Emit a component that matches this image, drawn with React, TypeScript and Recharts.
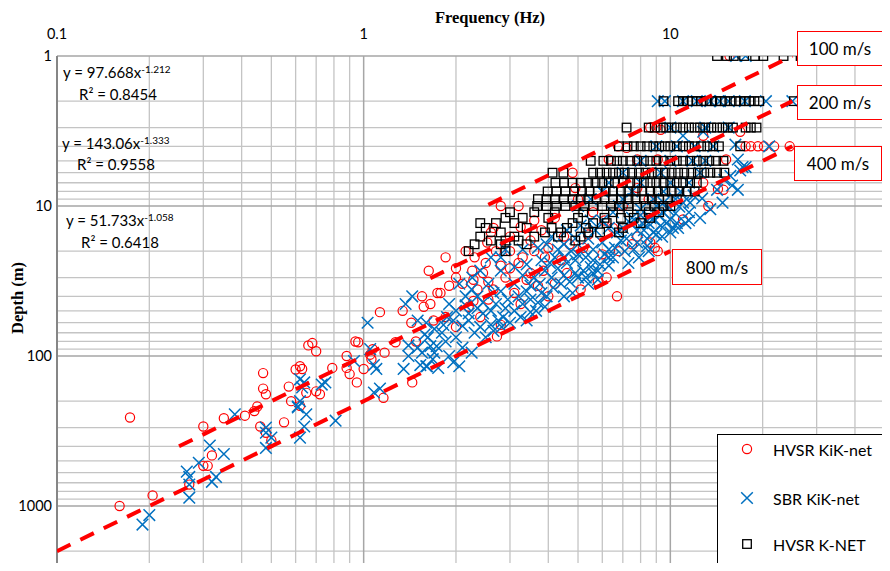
import React from 'react';
import { ScatterChart, Scatter, XAxis, YAxis, ReferenceLine } from 'recharts';

// HVSR KiK-net (red circles): [frequency Hz, depth m]
const hvsrKik: [number, number][] = [
  [0.173, 257], [0.16, 1000], [0.205, 850], [0.3, 295], [0.35, 260], [0.32, 460], [0.3, 540], [0.31, 540],
  [0.27, 720], [0.41, 250], [0.44, 233], [0.45, 217], [0.47, 165], [0.48, 180], [0.57, 160], [0.58, 200],
  [0.46, 295], [0.48, 325], [0.5, 365], [0.55, 277], [0.47, 130], [0.62, 215], [0.6, 123], [0.62, 117],
  [0.63, 122], [0.66, 85], [0.68, 82], [0.7, 93], [0.65, 176], [0.7, 172], [0.72, 180], [0.79, 120],
  [0.88, 100], [0.88, 120], [0.9, 132], [0.95, 150], [0.94, 80], [0.96, 81], [1.0, 122], [1.05, 98],
  [1.06, 105], [1.13, 51], [1.07, 90], [1.16, 190], [1.17, 95], [1.27, 81], [1.34, 50], [1.43, 60],
  [1.44, 150], [1.48, 80], [1.65, 45], [1.74, 38], [1.69, 58], [1.63, 27], [1.85, 22],
  [2.53, 17.5], [2.5, 24], [2.7, 20], [2.8, 25], [2.55, 32], [2.26, 27], [2.28, 31], [2.0, 26],
  [1.78, 38], [1.57, 47], [1.85, 55], [2.4, 55], [2.8, 62], [2.72, 74], [2.28, 43], [2.55, 42],
  [3.25, 45], [3.7, 34], [3.85, 27], [4.4, 23], [5.1, 36], [5.8, 32], [6.2, 30], [6.7, 40], [6.8, 20],
  [7.8, 16], [9.1, 20], [3.0, 26], [3.5, 28], [3.2, 24], [2.1, 33], [2.35, 36], [2.9, 30], [3.1, 38],
  [3.4, 31], [4.0, 40], [4.6, 28], [4.2, 33],
  [2.0, 30], [2.15, 20], [2.3, 22], [2.45, 28], [3.0, 20], [3.3, 22], [3.6, 20], [2.6, 15], [3.0, 16],
  [1.9, 34], [2.2, 47], [2.0, 64], [1.55, 40], [2.65, 36], [3.9, 22], [4.7, 18],
  [2.8, 10], [3.2, 10], [2.65, 14], [3.25, 13.8], [3.6, 12.5], [3.8, 14.5], [4.8, 6], [6.75, 4],
  [6.3, 4.9], [7.2, 4.1], [7.8, 4.9], [9.3, 3.1], [9.1, 4.9], [4.9, 7.6], [7.8, 7.6], [6.1, 12.5],
  [5.4, 15.5], [4.2, 12], [4.5, 16], [5.0, 9], [5.6, 11], [6.5, 14], [7.0, 10], [7.5, 18], [8.2, 12],
  [5.2, 19], [4.0, 19], [3.5, 17], [6.0, 21], [8.5, 9],
  [17.6, 4], [18.3, 4], [19.3, 4], [21.8, 4], [24.5, 4], [15.2, 4.9], [12.8, 7], [14.3, 7.7], [14.9, 7.8],
  [13.3, 10], [11.0, 12.3], [8.6, 17.5], [8.9, 19], [16.9, 3.2], [8.6, 3.0], [9.0, 3.0], [12.8, 3.4],
  [20.2, 4], [15.6, 1],
];

// SBR KiK-net (blue crosses): [frequency Hz, depth m]
const sbrKik: [number, number][] = [
  [0.19, 1330], [0.2, 1150], [0.27, 880], [0.265, 590], [0.27, 640], [0.29, 515], [0.27, 720], [0.315, 395],
  [0.32, 690], [0.33, 640], [0.35, 450], [0.38, 245], [0.48, 300], [0.48, 325], [0.5, 350], [0.48, 410],
  [0.61, 220], [0.62, 200], [0.81, 270], [0.62, 350], [0.64, 295],
  [0.62, 143], [0.63, 162], [0.61, 217], [0.65, 245], [0.64, 150], [0.73, 155], [0.75, 150], [0.93, 108],
  [1.03, 60], [1.05, 90], [1.08, 115], [1.1, 122], [1.08, 175], [1.13, 165], [1.35, 122], [1.44, 40],
  [1.37, 45], [1.5, 58], [1.6, 60], [1.4, 85], [1.5, 88], [1.6, 117], [1.68, 105], [1.53, 115], [1.62, 75],
  [1.4, 100],
  [1.61, 117], [1.96, 110], [2.05, 117], [1.65, 86], [1.73, 86], [1.8, 70], [1.96, 58], [1.87, 55],
  [2.1, 63], [2.2, 58], [2.4, 64], [2.45, 52], [2.6, 50], [2.75, 58], [2.82, 64], [3.25, 55], [3.5, 51],
  [3.65, 50], [3.9, 47], [4.5, 40], [4.8, 38], [5.4, 33], [5.8, 31], [2.05, 33], [2.15, 40], [2.25, 36],
  [2.35, 40], [2.15, 46], [2.65, 38], [2.8, 37], [3.1, 33], [3.4, 37], [3.75, 33], [4.15, 35], [4.5, 29],
  [4.9, 28], [5.2, 27], [5.5, 25.5], [5.9, 24.5], [6.3, 22], [6.3, 19.5], [2.8, 27], [3.1, 25.5],
  [3.4, 24.5], [3.8, 23], [4.2, 22], [4.5, 22], [4.9, 23], [5.2, 19.5], [5.6, 19.5], [6.0, 17.5],
  [6.1, 21], [2.9, 19.5], [3.3, 19.5], [3.7, 19], [3.95, 18], [4.5, 18], [4.9, 16.5], [5.4, 16.5],
  [7.2, 16.5], [7.8, 17.5], [8.4, 16.5], [8.8, 15], [9.3, 13.5], [9.7, 13], [10.2, 14], [7.6, 19.5],
  [8.4, 18.5], [7.0, 14], [6.3, 14], [5.7, 14.5], [6.5, 22], [7.9, 22], [2.4, 27], [2.26, 30], [2.6, 22],
  [2.8, 22],
  [1.55, 95], [1.7, 95], [1.85, 80], [1.9, 100], [1.75, 120], [1.58, 72], [1.7, 66], [1.82, 62], [2.0, 75],
  [2.1, 88], [2.25, 95], [2.0, 50], [1.9, 45], [2.3, 70], [2.5, 75], [2.6, 62], [2.45, 44], [2.55, 33],
  [2.7, 45], [2.9, 48], [2.95, 42], [2.35, 48], [2.2, 52], [2.65, 68], [2.85, 55], [3.0, 60], [3.1, 50],
  [3.2, 40], [3.3, 45], [3.5, 42], [3.6, 30], [3.8, 38], [3.9, 27], [3.3, 29], [3.5, 34], [3.7, 44],
  [3.4, 58], [3.95, 40], [4.1, 30], [4.3, 26], [4.05, 24], [4.4, 33], [4.7, 32], [4.6, 24], [4.75, 20],
  [5.0, 30], [5.0, 21], [5.3, 22], [5.6, 28], [5.3, 30], [5.8, 27], [5.6, 23], [4.3, 19.5], [4.1, 16],
  [4.6, 14.5], [5.1, 13.5], [5.5, 12.5], [6.0, 12.5], [6.3, 25], [6.6, 19], [6.9, 17], [7.1, 20],
  [6.7, 15], [7.4, 13], [7.8, 14.5], [8.1, 13], [8.6, 12], [9.0, 10], [9.5, 9.5], [9.8, 10.5], [10.4, 9],
  [11, 9.5], [8.5, 20], [7.3, 24], [9.4, 16], [10, 15], [10.6, 14], [11.2, 13],
  [9.1, 2], [9.6, 2], [12.2, 2], [13.5, 2], [15.5, 2], [25, 2], [17.5, 2], [20.5, 2], [12.8, 3.2],
  [16.3, 3.9], [16.6, 4.9], [17.2, 5.5], [17.6, 5.5], [15.7, 6.3], [16.9, 5.8], [16.6, 7.8], [15.9, 7.3],
  [15.0, 6.7], [14.2, 7.8], [12.7, 8.9], [11.9, 8.5], [11.6, 9.5], [10.7, 10.1], [10.4, 11.2], [10.0, 12.3],
  [11.5, 11], [12.5, 12], [13.5, 10.5], [14.8, 9.5], [11, 3.4], [21, 4], [16.4, 1], [17.6, 1],
  [9.0, 4.0], [10.5, 4.0], [12.0, 4.0], [13.8, 4.0], [8.0, 5.0], [10.0, 5.0], [11.8, 5.0], [13.0, 5.0],
  [7.0, 6.0], [9.3, 6.0], [12.5, 6.0], [6.3, 7.0], [8.0, 7.0], [10.0, 7.0], [11.5, 7.0], [6.0, 8.0],
  [7.5, 8.0], [9.5, 8.0], [10.8, 8.0], [5.5, 9.0], [7.0, 9.0], [8.8, 9.0], [5.0, 10.0], [6.8, 10.0],
  [8.0, 10.5], [9.2, 11.5], [7.5, 12], [6.5, 11], [8.5, 13], [11.0, 2.0], [14.5, 2.0], [10.0, 3.0],
  [13.0, 3.0], [15.5, 3.0], [8.0, 11.5], [8.9, 12.5], [9.5, 11], [10.5, 13], [11.5, 12.5], [8.2, 14.5],
  [9.0, 15.5],
];

// HVSR K-NET (black squares): frequencies per borehole depth
const knetRows: { d: number; f: number[] }[] = [
  { d: 1, f: [14.2, 15.3, 16.1, 17.4, 18.9, 20.1, 23.4, 26.6] },
  { d: 2, f: [9.5, 10.6, 11.0, 11.4, 11.8, 12.2, 12.6, 13.1, 13.6, 14.1, 14.6, 15.1, 15.7, 16.3, 16.9, 17.5, 18.1, 18.8, 19.5, 25.3] },
  { d: 3, f: [7.2, 8.5, 8.9, 9.3, 9.7, 10.1, 10.5, 11.0, 11.5, 12.0, 12.5, 13.0, 13.6, 14.2, 14.8, 15.4, 16.0, 17.6, 18.3, 19.1] },
  { d: 4, f: [6.8, 7.25, 7.6, 8.0, 8.4, 8.8, 9.2, 9.6, 10.0, 10.5, 11.0, 11.5, 12.0, 12.6, 13.2, 13.8, 14.4, 16.9] },
  { d: 5, f: [5.5, 6.05, 6.4, 6.7, 7.0, 7.4, 7.8, 8.2, 8.6, 9.0, 9.5, 10.0, 10.5, 11.0, 11.6, 12.2, 12.8, 13.4, 14.1, 14.9] },
  { d: 6, f: [4.13, 4.48, 5.6, 5.9, 6.2, 6.5, 6.8, 7.1, 7.5, 7.9, 8.3, 8.7, 9.1, 9.6, 10.1, 10.6, 11.1, 11.7, 12.3, 12.9, 13.5, 14.2, 15.0] },
  { d: 7, f: [4.22, 4.5, 4.8, 5.1, 5.4, 5.7, 6.0, 6.3, 6.6, 7.0, 7.4, 7.8, 8.2, 8.6, 9.0, 9.5, 10.0, 10.5, 11.0, 11.6, 12.2] },
  { d: 8, f: [3.98, 4.25, 4.55, 4.85, 5.15, 5.45, 5.8, 6.15, 6.5, 6.9, 7.3, 7.7, 8.1, 8.6, 9.1, 9.6, 10.1, 10.7, 11.3, 12.0] },
  { d: 9, f: [3.7, 3.95, 4.2, 4.5, 4.8, 5.1, 5.4, 5.75, 6.1, 6.5, 6.9, 7.3, 7.7, 8.2, 8.7, 9.2, 9.8, 10.5] },
  { d: 10, f: [3.68, 3.95, 4.25, 4.55, 4.9, 5.25, 5.6, 6.0, 6.4, 6.8, 7.3, 7.8, 8.3, 8.9, 9.5, 10.0] },
  { d: 11, f: [3.0, 3.6, 4.2, 5.2, 6.5, 7.3, 8.5, 9.2] },
  { d: 12, f: [2.9, 3.3, 4.0, 5.0, 6.1, 6.9, 7.6, 8.6] },
  { d: 13, f: [2.4, 2.7, 3.1, 4.8, 5.6, 6.2, 8.0] },
  { d: 14, f: [2.5, 3.4, 4.1, 4.6, 5.3, 7.0] },
  { d: 15, f: [2.8, 3.9, 4.4, 5.4, 5.9, 6.8] },
  { d: 16, f: [2.4, 3.1, 3.6, 4.3, 5.1] },
  { d: 17, f: [2.6, 2.9, 3.2, 4.9] },
  { d: 18, f: [2.3, 2.8, 3.4] },
  { d: 20, f: [2.2, 2.9] },
];

// constant-Vs reference lines (depth = Vs / 4f), start and end points
const line100 = [{ f: 2.55, d: 9.8 }, { f: 25, d: 1 }];
const line200 = [{ f: 1.65, d: 30.3 }, { f: 25, d: 2 }];
const line400 = [{ f: 0.25, d: 400 }, { f: 25, d: 4 }];
const line800 = [{ f: 0.1, d: 2000 }, { f: 10, d: 20 }];

const xTicks = [0.1, 1, 10];
const yTicks = [1, 10, 100, 1000];
const xMinor = [0.2, 0.3, 0.4, 0.5, 0.6, 0.7, 0.8, 0.9, 2, 3, 4, 5, 6, 7, 8, 9, 20, 30, 40, 50, 60, 70, 80, 90];
const yMinor = [2, 3, 4, 5, 6, 7, 8, 9, 20, 30, 40, 50, 60, 70, 80, 90, 200, 300, 400, 500, 600, 700, 800, 900, 2000, 3000, 4000];

const hvsrData = hvsrKik.map(([f, d]) => ({ f, d }));
const sbrData = sbrKik.map(([f, d]) => ({ f, d }));
const knetData = knetRows.flatMap((r) => r.f.map((f) => ({ f, d: r.d })));

const FONT = 'Lato, "Open Sans", sans-serif';

const RedCircle = (p: any) => (
  <circle cx={p.cx} cy={p.cy} r={4.6} fill="none" stroke="#ff0000" strokeWidth={1.2} />
);
const BlueCross = (p: any) => (
  <path
    d={`M${p.cx - 5.8},${p.cy - 5.8}L${p.cx + 5.8},${p.cy + 5.8}M${p.cx - 5.8},${p.cy + 5.8}L${p.cx + 5.8},${p.cy - 5.8}`}
    stroke="#0070c0"
    strokeWidth={1.5}
    fill="none"
  />
);
const BlackSquare = (p: any) => (
  <rect x={p.cx - 4.3} y={p.cy - 4.3} width={8.6} height={8.6} fill="none" stroke="#000" strokeWidth={1.3} />
);
const NoShape = () => <g />;

const dash = { stroke: '#ff0000', strokeWidth: 4, strokeDasharray: '15 11' };

const XTick = ({ x, payload }: any) => (
  <text x={x} y={39} textAnchor="middle" fontSize={14.5} fontFamily={FONT} fill="#000">
    {payload.value}
  </text>
);
const YTick = ({ y, payload }: any) => (
  <text x={52} y={y + 5} textAnchor="end" fontSize={14.5} fontFamily={FONT} fill="#000">
    {payload.value}
  </text>
);

const box: React.CSSProperties = {
  position: 'absolute',
  border: '1.5px solid #ff0000',
  background: '#fff',
  display: 'flex',
  alignItems: 'center',
  justifyContent: 'center',
  fontSize: 17,
  fontFamily: FONT,
  boxSizing: 'border-box',
};

const eq: React.CSSProperties = { position: 'absolute', fontSize: 15, fontFamily: FONT, whiteSpace: 'nowrap', lineHeight: '18px' };
const sup: React.CSSProperties = { fontSize: 10, verticalAlign: 'top', position: 'relative', top: -3 };
const title: React.CSSProperties = {
  position: 'absolute',
  fontFamily: '"Liberation Serif", serif',
  fontWeight: 'bold',
  fontSize: 16.5,
  whiteSpace: 'nowrap',
};

export default function App() {
  return (
    <div style={{ position: 'relative', width: 890, height: 571, overflow: 'hidden', margin: -8, background: '#fff' }}>
      <ScatterChart width={977} height={656} margin={{ top: 0, right: 0, bottom: 0, left: 0 }}>
        <XAxis
          type="number"
          dataKey="f"
          scale="log"
          domain={[0.1, 100]}
          ticks={xTicks}
          orientation="top"
          height={56}
          tickLine={false}
          axisLine={{ stroke: '#a6a6a6', strokeWidth: 1.5 }}
          tick={XTick}
          allowDataOverflow
        />
        <YAxis
          type="number"
          dataKey="d"
          scale="log"
          domain={[1, 10000]}
          reversed
          ticks={yTicks}
          width={57}
          tickLine={false}
          axisLine={{ stroke: '#868686', strokeWidth: 2 }}
          tick={YTick}
          allowDataOverflow
        />
        {xMinor.map((v) => (
          <ReferenceLine key={'xm' + v} x={v} stroke="#c4c4c4" strokeWidth={1.3} />
        ))}
        {yMinor.map((v) => (
          <ReferenceLine key={'ym' + v} y={v} stroke="#c4c4c4" strokeWidth={1.3} />
        ))}
        {[1, 10].map((v) => (
          <ReferenceLine key={'xM' + v} x={v} stroke="#a6a6a6" strokeWidth={1.5} />
        ))}
        {[10, 100, 1000].map((v) => (
          <ReferenceLine key={'yM' + v} y={v} stroke="#a6a6a6" strokeWidth={1.5} />
        ))}
        <Scatter data={hvsrData} shape={RedCircle} isAnimationActive={false} />
        <Scatter data={sbrData} shape={BlueCross} isAnimationActive={false} />
        <Scatter data={knetData} shape={BlackSquare} isAnimationActive={false} />
        <Scatter data={line100} shape={NoShape} line={dash} isAnimationActive={false} />
        <Scatter data={line200} shape={NoShape} line={dash} isAnimationActive={false} />
        <Scatter data={line400} shape={NoShape} line={dash} isAnimationActive={false} />
        <Scatter data={line800} shape={NoShape} line={dash} isAnimationActive={false} />
      </ScatterChart>

      <div style={{ ...title, left: 490, top: 8, transform: 'translateX(-50%)' }}>Frequency (Hz)</div>
      <div style={{ ...title, left: 18, top: 298, transform: 'translate(-50%, -50%) rotate(-90deg)' }}>Depth (m)</div>

      <div style={{ ...eq, left: 63, top: 63 }}>
        y = 97.668x<span style={sup}>-1.212</span>
      </div>
      <div style={{ ...eq, left: 79, top: 85 }}>R² = 0.8454</div>
      <div style={{ ...eq, left: 62, top: 134 }}>
        y = 143.06x<span style={sup}>-1.333</span>
      </div>
      <div style={{ ...eq, left: 77, top: 155 }}>R² = 0.9558</div>
      <div style={{ ...eq, left: 66, top: 211 }}>
        y = 51.733x<span style={sup}>-1.058</span>
      </div>
      <div style={{ ...eq, left: 81, top: 233 }}>R² = 0.6418</div>

      <div style={{ ...box, left: 797, top: 31, width: 86, height: 35 }}>100 m/s</div>
      <div style={{ ...box, left: 797, top: 85, width: 86, height: 35 }}>200 m/s</div>
      <div style={{ ...box, left: 794, top: 146, width: 88, height: 35 }}>400 m/s</div>
      <div style={{ ...box, left: 672, top: 249, width: 90, height: 36 }}>800 m/s</div>

      <div
        style={{
          position: 'absolute',
          left: 717,
          top: 434,
          width: 168,
          height: 170,
          border: '1.3px solid #000',
          background: '#fff',
          boxSizing: 'border-box',
          fontFamily: FONT,
          fontSize: 16,
        }}
      >
        {[
          { label: 'HVSR KiK-net', icon: <RedCircle cx={10} cy={10} />, top: 14 },
          { label: 'SBR KiK-net', icon: <BlueCross cx={10} cy={10} />, top: 63 },
          { label: 'HVSR K-NET', icon: <BlackSquare cx={10} cy={10} />, top: 109 },
        ].map((it) => (
          <div key={it.label} style={{ position: 'absolute', left: 0, top: it.top - 10, height: 20, display: 'flex', alignItems: 'center' }}>
            <svg width={20} height={20} style={{ marginLeft: 19 }}>
              {it.icon}
            </svg>
            <span style={{ marginLeft: 16, whiteSpace: 'nowrap' }}>{it.label}</span>
          </div>
        ))}
      </div>
    </div>
  );
}
